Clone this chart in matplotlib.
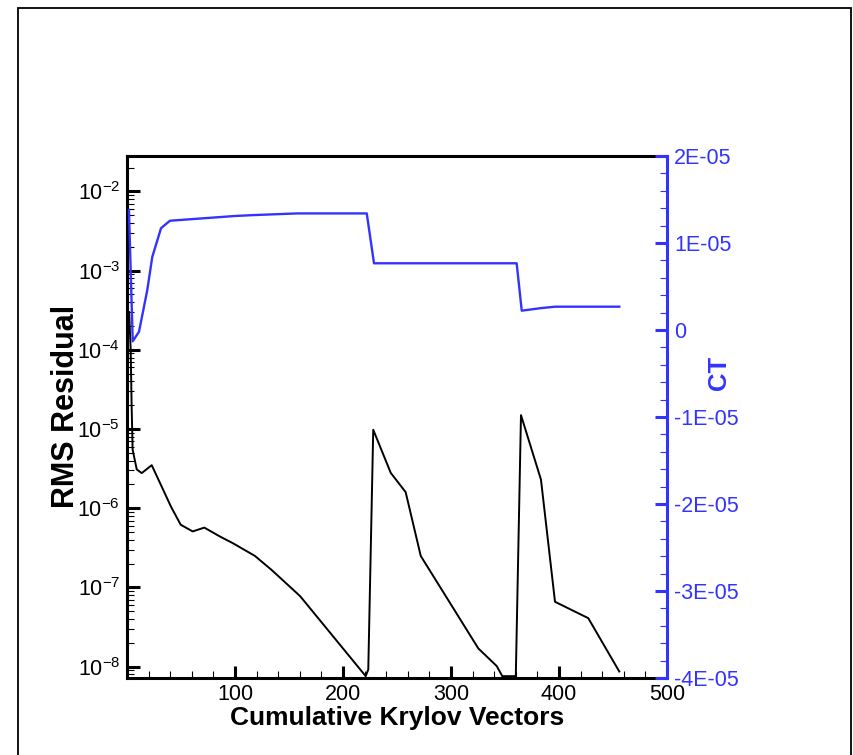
"""
residual history and thrust coefficient vs cumulative krylov vectors
"""
import numpy as np
import matplotlib
matplotlib.use("Agg")
import matplotlib.pyplot as plt
from matplotlib.patches import Rectangle
from matplotlib.ticker import MultipleLocator, LogLocator, FixedLocator, NullFormatter

plt.rcParams['font.family'] = ['Liberation Sans', 'DejaVu Sans']
plt.rcParams['mathtext.fontset'] = 'custom'
plt.rcParams['mathtext.rm'] = 'Liberation Sans'
plt.rcParams['mathtext.it'] = 'Liberation Sans'

# RMS residual (black, log axis)
res_x = [2.0, 3.4, 4.3, 5.2, 9.0, 13.6, 22.9, 40.7, 49.7, 60.8, 71.6, 86.1, 98.4,
         118.5, 134.0, 160.2, 191.0, 221.0, 223.4, 228.0, 244.2, 258.0, 272.0,
         325.3, 342.3, 347.5, 360.0, 364.8, 383.3, 396.3, 427.1, 455.8]
res_y = [3e-4, 1e-4, 1.95e-5, 5.5e-6, 3.1e-6, 2.78e-6, 3.5e-6, 1.05e-6, 6.2e-7,
         5.1e-7, 5.7e-7, 4.4e-7, 3.6e-7, 2.5e-7, 1.66e-7, 7.8e-8, 2.4e-8,
         7.6e-9, 9.2e-9, 9.8e-6, 2.8e-6, 1.6e-6, 2.5e-7, 1.7e-8, 1.02e-8,
         7.6e-9, 7.6e-9, 1.5e-5, 2.3e-6, 6.6e-8, 4.1e-8, 8.7e-9]

# CT (blue, right axis)
ct_x = [1.8, 5.3, 11.1, 18.8, 23.4, 31.5, 39.8, 83.0, 99.4, 115.5, 157.7, 222.0,
        228.7, 360.8, 365.5, 382.4, 396.3, 455.8]
ct_y = [1.38e-5, -1.3e-6, -2e-7, 4.6e-6, 8.4e-6, 1.17e-5, 1.256e-5, 1.295e-5,
        1.31e-5, 1.32e-5, 1.34e-5, 1.34e-5, 7.67e-6, 7.67e-6, 2.22e-6, 2.5e-6,
        2.68e-6, 2.68e-6]

x_ticks = [100, 200, 300, 400, 500]
res_ticks = [1e-2, 1e-3, 1e-4, 1e-5, 1e-6, 1e-7, 1e-8]
ct_ticks = [2e-5, 1e-5, 0, -1e-5, -2e-5, -3e-5, -4e-5]
ct_labels = ['2E-05', '1E-05', '0', '-1E-05', '-2E-05', '-3E-05', '-4E-05']

BLUE = '#3333ff'
W, H = 854, 755

fig = plt.figure(figsize=(8.54, 7.55), dpi=100)
fig.add_artist(Rectangle((18 / W, -0.05), (851 - 18) / W, 1.05 - 8 / H,
                         transform=fig.transFigure, fill=False, lw=1.3,
                         edgecolor='black'))

ax = fig.add_axes([127 / W, 1 - 678 / H, 540 / W, 522 / H])
ax.plot(res_x, res_y, color='black', lw=1.4)
ax.set_yscale('log')
ax.set_xlim(0, 500)
ax.set_ylim(7.2e-9, 2.8e-2)
ax.xaxis.set_major_locator(FixedLocator(x_ticks))
ax.xaxis.set_minor_locator(MultipleLocator(20))
ax.yaxis.set_major_locator(FixedLocator(res_ticks))
ax.yaxis.set_minor_locator(LogLocator(base=10, subs=np.arange(2, 10)))
ax.yaxis.set_minor_formatter(NullFormatter())
ax.set_yticklabels([r'$10^{%d}$' % int(np.log10(v)) for v in res_ticks])
ax.tick_params(which='major', direction='in', length=9, width=2.2,
               labelsize=15.5, top=False, right=False)
ax.tick_params(axis='y', which='major', pad=5)
ax.tick_params(axis='x', which='major', pad=4)
ax.tick_params(which='minor', direction='in', length=5, width=0.8,
               top=False, right=False)
for s in ['left', 'bottom', 'top']:
    ax.spines[s].set_linewidth(2.2)
ax.spines['right'].set_visible(False)
ax.set_xlabel('Cumulative Krylov Vectors', fontsize=19, fontweight='bold')
ax.xaxis.set_label_coords(0.5, -0.054)

ax2 = ax.twinx()
ax2.plot(ct_x, ct_y, color=BLUE, lw=1.7)
ax2.set_ylim(-4e-5, 2e-5)
ax2.yaxis.set_major_locator(FixedLocator(ct_ticks))
ax2.yaxis.set_minor_locator(MultipleLocator(2e-6))
ax2.set_yticklabels(ct_labels)
ax2.tick_params(which='major', direction='in', length=9, width=2.2,
                labelsize=15.5, colors=BLUE, pad=5)
ax2.tick_params(which='minor', direction='in', length=5, width=0.8, colors=BLUE)
ax2.spines['right'].set_color(BLUE)
ax2.spines['right'].set_linewidth(2.2)
for s in ['left', 'bottom', 'top']:
    ax2.spines[s].set_visible(False)

fig.text(66 / W, 1 - 406 / H, 'RMS Residual', rotation=90, ha='center',
         va='center', fontsize=22, fontweight='bold')
fig.text(719 / W, 1 - 373 / H, 'CT', rotation=90, ha='center', va='center',
         fontsize=18.5, fontweight='bold', color=BLUE)

fig.savefig('out.png', dpi=100)
